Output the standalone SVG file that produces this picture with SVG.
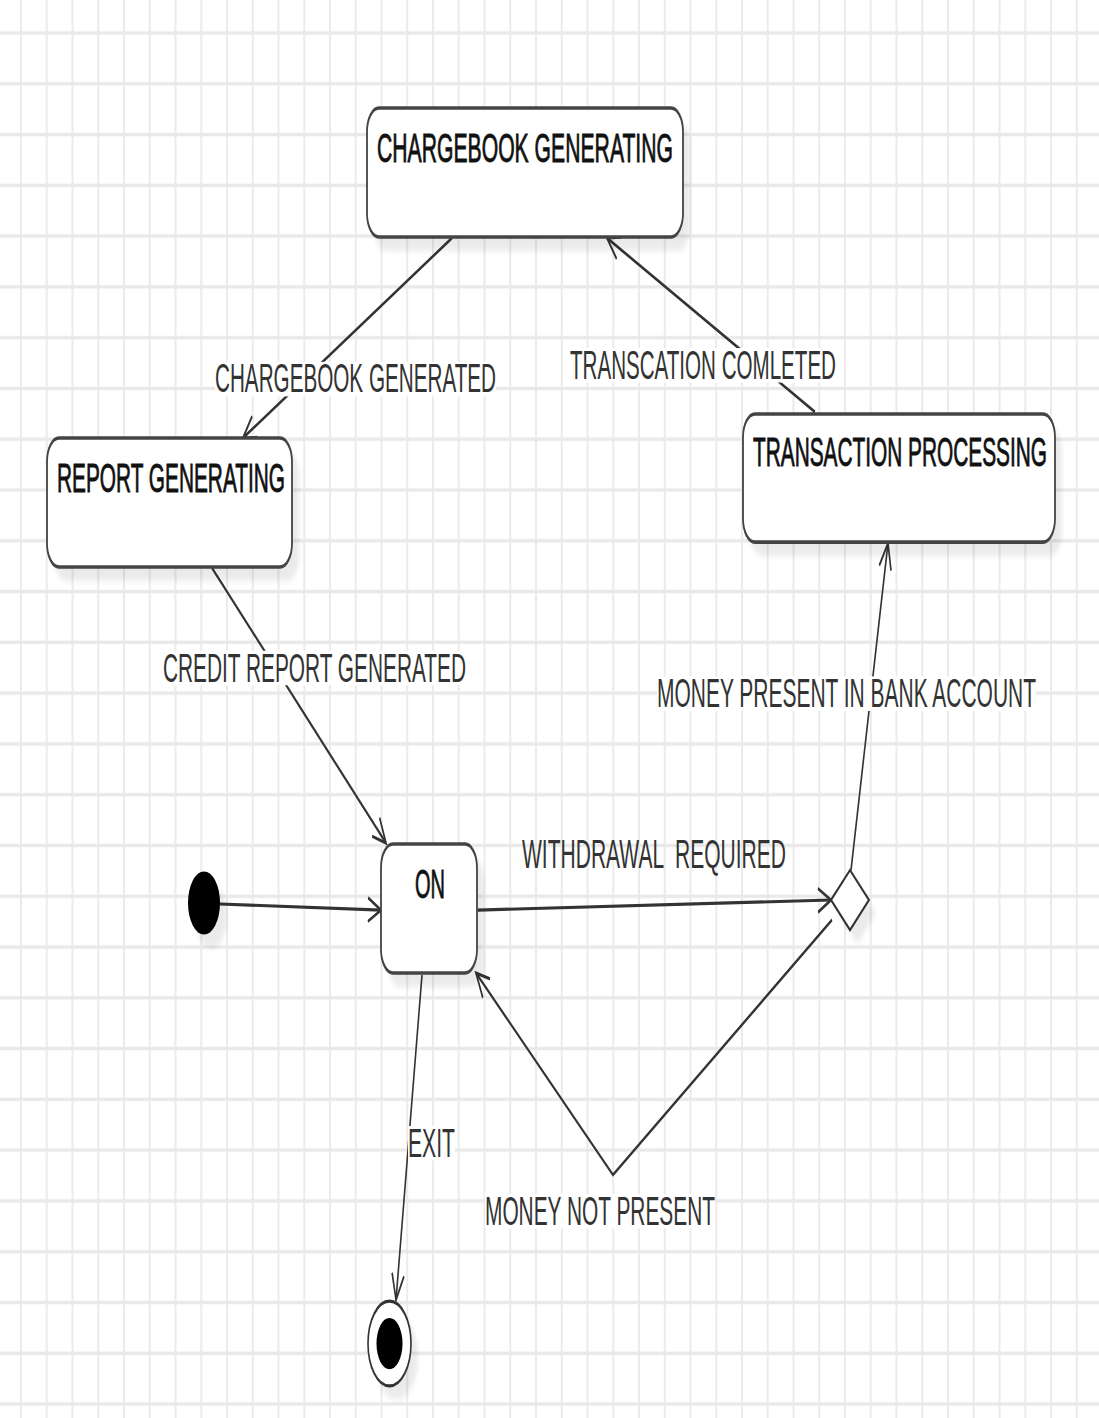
<svg xmlns="http://www.w3.org/2000/svg" width="1099" height="1418" viewBox="0 0 1099 1418">
<style>
.box{fill:#fff;stroke:#444;stroke-width:1.8}
.shadow{fill:#000;opacity:0.08}
.name{font-family:"Liberation Sans",Arial,sans-serif;font-size:21px;fill:#111;stroke:#111;stroke-width:0.45;text-anchor:middle}
.lbl{font-family:"Liberation Sans",Arial,sans-serif;font-size:21px;fill:#333;text-anchor:middle;white-space:pre}
.edge{fill:none;stroke:#333;stroke-width:1.6}
.lblbg{fill:#fff}
</style>
<defs>
<pattern id="grid" patternUnits="userSpaceOnUse" x="8.125" y="3.855" width="25.75" height="25.75">
<path d="M12.875,0 V25.75 M0,12.875 H25.75" stroke="#e9e9e9" stroke-width="1.8" fill="none"/>
</pattern>
<marker id="arr" markerUnits="userSpaceOnUse" markerWidth="16" markerHeight="16" refX="13" refY="6" orient="auto" overflow="visible">
<path d="M0,0 L13,6 L0,12" fill="none" stroke="#333" stroke-width="1.6"/>
</marker>
<filter id="blur" x="-20%" y="-20%" width="140%" height="140%"><feGaussianBlur stdDeviation="2"/></filter>
</defs>
<rect x="0" y="0" width="1099" height="1418" fill="#fff"/>
<g transform="scale(1,1.972)">
<rect x="0" y="0" width="1099" height="720" fill="url(#grid)"/>

<g id="connectors">
<path id="e1" class="edge" d="M452,120.7 L243,222.1" marker-end="url(#arr)"/>
<path id="e2" class="edge" d="M815,208.9 L607,120.7" marker-end="url(#arr)"/>
<path id="e3" class="edge" d="M212,288 L386,427.5" marker-end="url(#arr)"/>
<path id="e4" class="edge" d="M220,458.4 L381,461.5" marker-end="url(#arr)"/>
<path id="e5" class="edge" d="M478,461.5 L831,456.4" marker-end="url(#arr)"/>
<path id="e6" class="edge" d="M851,441.2 L888,275.4" marker-end="url(#arr)"/>
<path id="e7" class="edge" d="M832,466.5 L613,595.8 L476,493.4" marker-end="url(#arr)"/>
<path id="e8" class="edge" d="M422,494.4 L396,659.2" marker-end="url(#arr)"/>
<g id="labels">
<rect class="lblbg" x="215" y="183.5" width="281" height="17.5"/>
<text class="lbl" x="355.5" y="198.8" textLength="281" lengthAdjust="spacingAndGlyphs">CHARGEBOOK GENERATED</text>
<rect class="lblbg" x="570" y="176.5" width="266" height="17.5"/>
<text class="lbl" x="703" y="192.2" textLength="266" lengthAdjust="spacingAndGlyphs">TRANSCATION COMLETED</text>
<rect class="lblbg" x="163" y="330" width="303" height="17.5"/>
<text class="lbl" x="314.5" y="345.8" textLength="303" lengthAdjust="spacingAndGlyphs">CREDIT REPORT GENERATED</text>
<text class="lbl" x="654" y="440.2" textLength="264" lengthAdjust="spacingAndGlyphs">WITHDRAWAL  REQUIRED</text>
<rect class="lblbg" x="657" y="343" width="379" height="17.5"/>
<text class="lbl" x="846.5" y="358.5" textLength="379" lengthAdjust="spacingAndGlyphs">MONEY PRESENT IN BANK ACCOUNT</text>
<rect class="lblbg" x="485" y="605.5" width="230" height="17.5"/>
<text class="lbl" x="600" y="621.2" textLength="230" lengthAdjust="spacingAndGlyphs">MONEY NOT PRESENT</text>
<rect class="lblbg" x="408" y="571" width="47" height="17.5"/>
<text class="lbl" x="431.5" y="586.7" textLength="47" lengthAdjust="spacingAndGlyphs">EXIT</text>
</g>
</g>

<g id="chargebook-generating">
<rect class="shadow" x="374" y="61.8" width="316" height="65.4" rx="12" filter="url(#blur)"/>
<rect class="box" x="367" y="54.8" width="316" height="65.4" rx="12"/>
<text class="name" x="525" y="82.2" textLength="296" lengthAdjust="spacingAndGlyphs">CHARGEBOOK GENERATING</text>
</g>

<g id="report-generating">
<rect class="shadow" x="54" y="229.1" width="245" height="65.4" rx="12" filter="url(#blur)"/>
<rect class="box" x="47" y="222.1" width="245" height="65.4" rx="12"/>
<text class="name" x="171" y="249.5" textLength="228" lengthAdjust="spacingAndGlyphs">REPORT GENERATING</text>
</g>

<g id="transaction-processing">
<rect class="shadow" x="750" y="216.9" width="312" height="65" rx="12" filter="url(#blur)"/>
<rect class="box" x="743" y="209.9" width="312" height="65" rx="12"/>
<text class="name" x="900" y="236.5" textLength="294" lengthAdjust="spacingAndGlyphs">TRANSACTION PROCESSING</text>
</g>

<g id="on">
<rect class="shadow" x="388" y="435" width="96" height="65.4" rx="12" filter="url(#blur)"/>
<rect class="box" x="381" y="428" width="96" height="65.4" rx="12"/>
<text class="name" x="430" y="455.4" textLength="30" lengthAdjust="spacingAndGlyphs">ON</text>
</g>

<g id="initial">
<circle class="shadow" cx="211" cy="464.9" r="16" filter="url(#blur)"/>
<circle cx="204" cy="457.9" r="16" fill="#000"/>
</g>

<g id="decision">
<polygon class="shadow" points="838,463.4 857,448.2 876,463.4 857,478.6" filter="url(#blur)"/>
<polygon points="831,456.4 850,441.2 869,456.4 850,471.6" fill="#fff" stroke="#333" stroke-width="1.5"/>
</g>

<g id="final">
<circle class="shadow" cx="396.5" cy="688.3" r="21.5" filter="url(#blur)"/>
<circle cx="389.5" cy="681.3" r="21.5" fill="#fff" stroke="#333" stroke-width="1.6"/>
<circle cx="389.5" cy="681.3" r="13" fill="#000"/>
</g>
</g>
</svg>
